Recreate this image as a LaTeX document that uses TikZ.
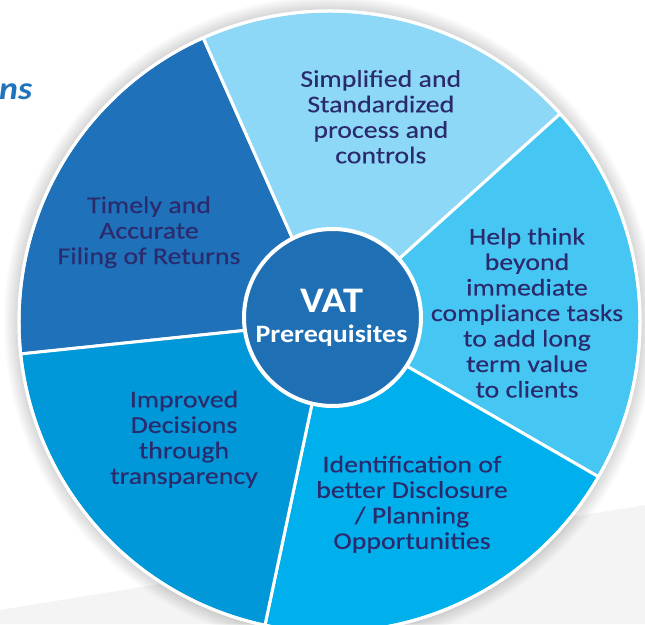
\documentclass[tikz,border=0pt]{standalone}
\usepackage{fontspec}
\setmainfont{Carlito}[FakeStretch=1.12]
\newfontfamily\segfont{Carlito}[FakeStretch=1.16,FakeBold=0.15]
\definecolor{segA}{HTML}{1F72B9}
\definecolor{segB}{HTML}{8DD8F6}
\definecolor{segC}{HTML}{45C6F3}
\definecolor{segD}{HTML}{00B0EC}
\definecolor{segE}{HTML}{0098D8}
\definecolor{hubc}{HTML}{1F6FB5}
\definecolor{txtc}{HTML}{2A2A6C}
\definecolor{titlec}{HTML}{1F74BC}
\definecolor{bgray}{HTML}{F4F4F4}
\begin{document}
\begin{tikzpicture}[x=1pt,y=1pt,
  wedge/.style={line width=3pt, draw=white, line join=round},
  segtext/.style={align=center, text=txtc, font=\segfont\fontsize{24}{25.5}\selectfont, inner sep=0pt},
  hubtext/.style={text=white, font=\bfseries, inner sep=0pt, anchor=base}
]
\useasboundingbox (0,0) rectangle (645,624);
% faint background shape
\fill[bgray] (645,119) -- (645,0) -- (0,0) -- (0,14) -- cycle;
% centre of the wheel
\coordinate (C) at (329.5,302.5);
% soft shadow
\foreach \i in {1,...,14}
  \fill[black, opacity=0.011] (C) circle ({310.5+\i*1.1});
% wedges
\filldraw[wedge, fill=segA] (C) -- ++(114:310.5) arc[start angle=114, end angle=186, radius=310.5] -- cycle;
\filldraw[wedge, fill=segB] (C) -- ++(42:310.5) arc[start angle=42, end angle=114, radius=310.5] -- cycle;
\filldraw[wedge, fill=segC] (C) -- ++(-30:310.5) arc[start angle=-30, end angle=42, radius=310.5] -- cycle;
\filldraw[wedge, fill=segD] (C) -- ++(-102:310.5) arc[start angle=-102, end angle=-30, radius=310.5] -- cycle;
\filldraw[wedge, fill=segE] (C) -- ++(-174:310.5) arc[start angle=-174, end angle=-102, radius=310.5] -- cycle;
\draw[white, line width=3pt] (C) circle (310.5);
% hub
\node[circle, fill=hubc, draw=white, line width=4pt, minimum size=177pt, inner sep=0pt] (hub) at (332.5,306.5) {};
\node[hubtext, font=\bfseries\fontsize{36}{36}\selectfont] (vat) at (331.5,311) {VAT};
\node[hubtext, font=\bfseries\fontsize{25}{25}\selectfont] (prereq) at (331.5,281) {Prerequisites};
% segment texts
\node[segtext] (timely) at (149,391.75) {Timely and\\Accurate\\Filing of Returns};
\node[segtext] (simplified) at (380.8,507.2) {Simplified and\\Standardized\\process and\\controls};
\node[segtext] (help) at (527,311.25) {Help think\\beyond\\immediate\\compliance tasks\\to add long\\term value\\to clients};
\node[segtext] (ident) at (412,119.75) {Identification of\\better Disclosure\\/ Planning\\Opportunities};
\node[segtext] (improved) at (184,184.75) {Improved\\Decisions\\through\\transparency};
% cut-off heading
\node[text=titlec, font=\bfseries\itshape\fontsize{32}{32}\selectfont, anchor=base west, inner sep=0pt] (ns) at (-1,524) {ns};
\end{tikzpicture}
\end{document}
